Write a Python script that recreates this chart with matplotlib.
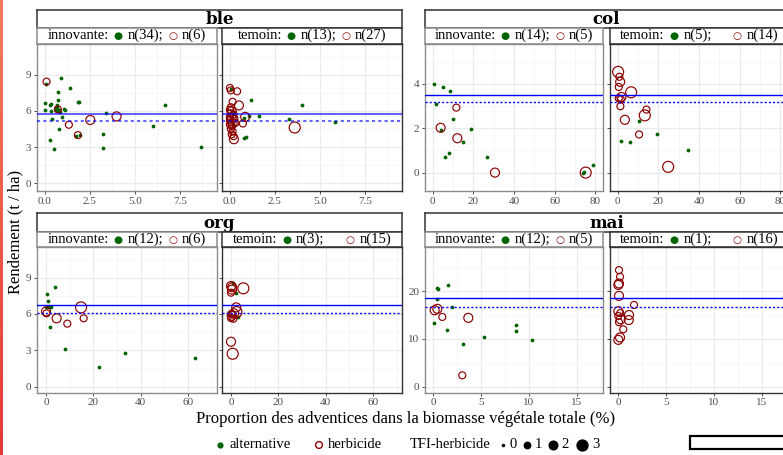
import matplotlib
matplotlib.use('Agg')
import matplotlib.pyplot as plt
import numpy as np
from matplotlib.offsetbox import TextArea, HPacker, AnchoredOffsetbox, DrawingArea
from matplotlib.patches import Rectangle
from matplotlib.colors import LinearSegmentedColormap

plt.rcParams['font.family'] = ['Liberation Serif', 'DejaVu Sans']

W, H = 783, 455
GREEN = '#006400'
RED = '#8B0000'
BLUE = '#0000FF'

# ---- data: alternative (x, y) ; herbicide (x, y, TFI) ----
ble_inn_alt = [(0.05, 8.25), (0.89, 8.73), (1.39, 7.92), (0.70, 7.56), (0.72, 6.87), (0.02, 6.67),
               (0.26, 6.45), (0.33, 6.53), (0.67, 6.48), (0.76, 6.09), (0.63, 6.03), (0.00, 6.03),
               (0.32, 6.01), (1.07, 6.15), (1.13, 6.09), (1.89, 6.73), (0.93, 5.51), (0.37, 5.29),
               (3.41, 5.79), (0.78, 4.49), (1.70, 3.93), (1.94, 3.99), (3.22, 4.12), (0.28, 3.60),
               (0.52, 2.88), (3.22, 2.96), (6.67, 6.51), (6.02, 4.71), (8.67, 3.02), (0.60, 6.35),
               (0.70, 5.95), (0.85, 5.90), (0.66, 6.20), (1.85, 6.70)]
ble_inn_herb = [(0.09, 8.42, 1), (0.72, 6.12, 1), (1.33, 4.85, 1), (1.83, 3.99, 1),
                (2.52, 5.24, 2), (3.98, 5.54, 2)]
ble_tem_alt = [(0.04, 7.81), (1.17, 6.87), (3.98, 6.51), (0.20, 5.90), (1.61, 5.60), (1.04, 5.54),
               (0.80, 5.40), (3.28, 5.35), (5.85, 5.07), (0.78, 3.79), (0.91, 3.85), (0.09, 5.12),
               (0.15, 4.90)]
ble_tem_herb = [(0.00, 7.90, 1), (0.05, 7.70, 1), (0.40, 7.62, 1), (0.15, 6.75, 1), (0.50, 6.45, 2),
                (0.05, 6.30, 1), (0.00, 6.10, 1), (0.10, 5.95, 2), (0.05, 5.80, 1), (0.20, 5.70, 1),
                (0.00, 5.50, 1), (0.10, 5.40, 2), (0.25, 5.35, 1), (0.85, 5.50, 2), (0.00, 5.20, 1),
                (0.05, 5.05, 1), (0.15, 4.95, 2), (0.00, 4.85, 1), (0.10, 4.75, 1), (0.72, 4.95, 1),
                (0.05, 4.50, 1), (0.15, 4.30, 1), (0.10, 4.05, 1), (0.20, 3.90, 1), (0.22, 3.65, 2),
                (3.60, 4.62, 3), (0.30, 5.00, 1)]

col_inn_alt = [(0.8, 4.00), (5.2, 3.85), (8.6, 3.68), (1.6, 3.09), (9.8, 2.42), (19.0, 1.96),
               (4.1, 1.90), (14.7, 1.36), (8.2, 0.90), (6.0, 0.70), (26.5, 0.71), (78.9, 0.36),
               (74.0, 0.00), (74.6, 0.03)]
col_inn_herb = [(11.6, 2.93, 1), (3.9, 2.02, 2), (12.1, 1.55, 2), (30.6, 0.00, 2), (75.2, 0.00, 3)]
col_tem_alt = [(1.6, 1.43), (6.1, 1.36), (10.3, 2.31), (19.5, 1.72), (34.6, 1.03)]
col_tem_herb = [(0.2, 4.54, 3), (0.8, 4.32, 1), (1.2, 4.09, 2), (0.5, 3.86, 1), (6.6, 3.62, 3),
                (1.8, 3.41, 2), (1.5, 3.30, 1), (0.5, 3.35, 1), (1.3, 2.99, 1), (14.1, 2.84, 1),
                (13.3, 2.58, 3), (3.5, 2.38, 2), (10.5, 1.72, 1), (24.8, 0.26, 3)]

org_inn_alt = [(3.9, 8.19), (0.4, 7.67), (0.7, 7.09), (0.0, 6.54), (1.4, 6.54), (2.1, 6.54),
               (0.6, 6.55), (1.8, 4.95), (8.0, 3.08), (33.2, 2.80), (22.4, 1.62), (62.9, 2.39)]
org_inn_herb = [(0.0, 6.21, 2), (0.2, 6.05, 1), (4.5, 5.64, 2), (9.0, 5.20, 1), (14.8, 6.54, 3),
                (15.9, 5.64, 1)]
org_tem_alt = [(1.0, 8.52), (2.1, 7.70), (2.8, 5.77)]
org_tem_herb = [(0.0, 8.30, 2), (0.5, 8.20, 2), (0.4, 8.00, 2), (0.0, 7.75, 1), (5.2, 8.11, 3),
                (2.2, 6.54, 2), (1.3, 6.05, 2), (2.3, 6.15, 3), (0.3, 5.85, 2), (0.6, 5.95, 1),
                (0.1, 6.00, 1), (0.0, 5.66, 1), (1.0, 5.60, 1), (0.0, 3.71, 2), (0.7, 2.72, 3)]

mai_inn_alt = [(0.35, 20.6), (0.52, 20.4), (1.5, 21.3), (0.35, 18.3), (2.0, 16.7), (0.1, 13.4),
               (1.43, 11.9), (3.1, 9.0), (5.27, 10.3), (8.6, 12.9), (8.7, 11.6), (10.35, 9.77)]
mai_inn_herb = [(0.14, 16.0, 2), (0.42, 16.3, 2), (0.94, 14.6, 1), (3.66, 14.4, 2), (3.03, 2.38, 1)]
mai_tem_alt = [(17.3, 18.8)]
mai_tem_herb = [(0.07, 24.4, 1), (0.18, 23.0, 1), (0.07, 21.6, 2), (0.0, 21.3, 2), (0.07, 19.0, 2),
                (1.64, 17.1, 1), (0.0, 15.8, 2), (0.2, 15.4, 1), (1.12, 15.0, 2), (0.0, 14.8, 1),
                (0.25, 14.1, 2), (1.09, 13.95, 2), (0.07, 13.5, 1), (0.52, 12.0, 1), (0.18, 10.3, 2),
                (0.0, 9.8, 2)]

crop_names = ['ble', 'col', 'org', 'mai']
mean_solid = [5.75, 3.52, 6.72, 18.5]
mean_dotted = [5.20, 3.17, 6.05, 16.6]
x_ticks = [[0, 2.5, 5, 7.5], [0, 20, 40, 60, 80], [0, 20, 40, 60], [0, 5, 10, 15]]
x_ticklabels = [['0.0', '2.5', '5.0', '7.5'], ['0', '20', '40', '60', '80'],
                ['0', '20', '40', '60'], ['0', '5', '10', '15']]
y_ticks = [[0, 3, 6, 9], [0, 2, 4], [0, 3, 6, 9], [0, 10, 20]]
tfi_levels = [0, 1, 2, 3]

panels = {
    'ble': (ble_inn_alt, ble_inn_herb, ble_tem_alt, ble_tem_herb),
    'col': (col_inn_alt, col_inn_herb, col_tem_alt, col_tem_herb),
    'org': (org_inn_alt, org_inn_herb, org_tem_alt, org_tem_herb),
    'mai': (mai_inn_alt, mai_inn_herb, mai_tem_alt, mai_tem_herb),
}

# ---- layout (pixels) ----
xlims = [(-0.44, 9.56), (-3.8, 83.7), (-3.8, 72.2), (-0.87, 17.75)]
ylims = [(-0.64, 11.58), (-0.83, 5.82), (-0.49, 11.54), (-1.26, 29.3)]
col_x = [(37, 217, 222, 402), (425, 603, 610, 788)]
row_y = [(9.5, 28, 43.5, 191), (212.7, 231.7, 246.7, 392.7)]


def size_of(tfi):
    d_px = {0: 3.2, 1: 7, 2: 9, 3: 11}[tfi]
    return (d_px * 0.72) ** 2


fig = plt.figure(figsize=(W / 100, H / 100), dpi=100)


def add_ax(x0, y0, x1, y1):
    return fig.add_axes([x0 / W, 1 - y1 / H, (x1 - x0) / W, (y1 - y0) / H])


def strip(x0, y0, x1, y1, edge):
    ax = add_ax(x0, y0, x1, y1)
    ax.set_xticks([])
    ax.set_yticks([])
    for s in ax.spines.values():
        s.set_color(edge)
        s.set_linewidth(1.1)
    return ax


def sub_strip_text(ax, label, n_alt, n_herb, wide):
    tp = dict(fontsize=10.5, color='black', family=['Liberation Serif', 'DejaVu Sans'])
    kids = [TextArea(label + ':', textprops=tp),
            TextArea('●', textprops=dict(fontsize=7.5, color=GREEN, family='DejaVu Sans')),
            TextArea('n(%d);' % n_alt, textprops=tp)]
    if wide:
        kids.append(DrawingArea(8, 1))
    kids += [TextArea('○', textprops=dict(fontsize=7.5, color=RED, family='DejaVu Sans')),
             TextArea('n(%d)' % n_herb, textprops=tp)]
    box = HPacker(children=kids, align='baseline', pad=0, sep=3.5)
    ab = AnchoredOffsetbox(loc='center', child=box, frameon=False, pad=0, borderpad=0)
    ax.add_artist(ab)


def draw_panel(ax, k, alt, herb, show_y, edge):
    ax.set_xticks(x_ticks[k])
    ax.set_xticklabels(x_ticklabels[k])
    ax.set_yticks(y_ticks[k])
    xs = np.diff(x_ticks[k])[0]
    ys = np.diff(y_ticks[k])[0]
    ax.set_xticks(np.arange(x_ticks[k][0] - xs / 2, xlims[k][1], xs), minor=True)
    ax.set_yticks(np.arange(y_ticks[k][0] - ys / 2, ylims[k][1], ys), minor=True)
    ax.grid(which='major', color='#EBEBEB', lw=0.9)
    ax.grid(which='minor', color='#F3F3F3', lw=0.5)
    ax.set_axisbelow(True)
    ax.tick_params(which='major', labelsize=8, labelcolor='#4D4D4D', length=2.5,
                   color='#333333', width=0.6, pad=1.5)
    ax.tick_params(which='minor', length=0)
    if not show_y:
        ax.tick_params(labelleft=False)
    for s in ax.spines.values():
        s.set_color(edge)
        s.set_linewidth(1.0)

    ax.scatter([p[0] for p in alt], [p[1] for p in alt], s=size_of(0) * 1.4,
               color=GREEN, lw=0, zorder=2)
    ax.scatter([p[0] for p in herb], [p[1] for p in herb], s=[size_of(p[2]) for p in herb],
               facecolors='none', edgecolors=RED, lw=0.85, zorder=3)

    a = 0.6 if k == 0 else 1.0
    lw = 1.5 if k == 0 else 1.0
    ax.axhline(mean_solid[k], color=BLUE, lw=lw, alpha=a, zorder=4)
    ax.axhline(mean_dotted[k], color=BLUE, lw=lw, alpha=a, ls=(0, (1.5, 1.5)), zorder=4)
    ax.set_xlim(xlims[k])
    ax.set_ylim(ylims[k])


for k, name in enumerate(crop_names):
    xi0, xi1, xt0, xt1 = col_x[k % 2]
    y0, y1, y2, y3 = row_y[k // 2]
    inn_alt, inn_herb, tem_alt, tem_herb = panels[name]

    st = strip(xi0, y0, xt1, y1, '#333333')
    st.text(0.5, 0.45, name, ha='center', va='center', fontsize=12, fontweight='bold',
            family='DejaVu Serif', transform=st.transAxes)

    s1 = strip(xi0, y1, xi1, y2, '#8C8C8C')
    sub_strip_text(s1, 'innovante', len(inn_alt), len(inn_herb), False)
    s2 = strip(xt0, y1, xt1, y2, '#333333')
    sub_strip_text(s2, 'temoin', len(tem_alt), len(tem_herb), name != 'ble')

    p1 = add_ax(xi0, y2, xi1, y3)
    draw_panel(p1, k, inn_alt, inn_herb, True, '#8C8C8C')
    p2 = add_ax(xt0, y2, xt1, y3)
    draw_panel(p2, k, tem_alt, tem_herb, False, '#333333')

fig.text(406 / W, 1 - 419 / H, 'Proportion des adventices dans la biomasse végétale totale (%)',
         ha='center', va='center', fontsize=12)
fig.text(15 / W, 1 - 232 / H, 'Rendement (t / ha)', ha='center', va='center',
         rotation=90, fontsize=12)

# ---- overlay: legend, bottom box, left bar ----
ov = fig.add_axes([0, 0, 1, 1], zorder=10)
ov.axis('off')

ly = 445
ov.scatter([220], [ly], s=20, color=GREEN, lw=0)
ov.text(229, ly, 'alternative', va='center', ha='left', fontsize=10.5)
ov.scatter([319], [ly], s=24, facecolors='none', edgecolors=RED, lw=1.0)
ov.text(328, ly, 'herbicide', va='center', ha='left', fontsize=10.5)
ov.text(410, ly, 'TFI-herbicide', va='center', ha='left', fontsize=10.5)
for t, xd in zip(tfi_levels, [503, 527, 553, 582]):
    ov.scatter([xd], [ly], s=size_of(t) * 1.25, color='black', lw=0)
    ov.text(xd + 6 + t * 1.3, ly, str(t), va='center', ha='left', fontsize=10.5)

ov.add_patch(Rectangle((690, 436), 120, 13, facecolor='white', edgecolor='black', lw=1.6))

grad = LinearSegmentedColormap.from_list('bar', ['#F27B5F', '#E53935'])
ov.imshow(np.linspace(0, 1, 100).reshape(-1, 1), cmap=grad, aspect='auto',
          extent=[0, 3, H, 0])
ov.set_xlim(0, W)
ov.set_ylim(H, 0)

fig.savefig('out.png', dpi=100)
